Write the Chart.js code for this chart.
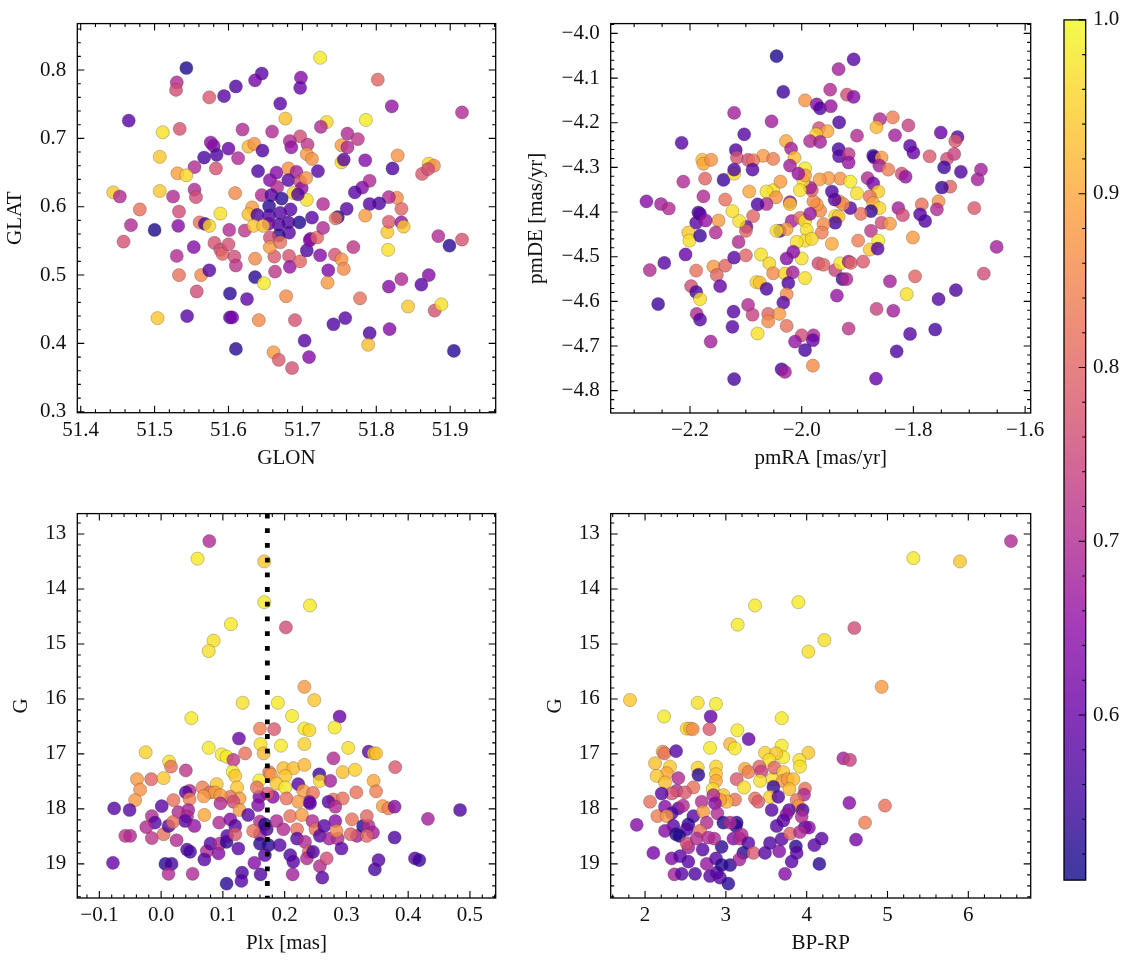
<!DOCTYPE html>
<html>
<head>
<meta charset="utf-8">
<script src="https://cdn.jsdelivr.net/npm/chart.js@4.4.1/dist/chart.umd.min.js"></script>
<style>
  html, body { margin: 0; padding: 0; background: #fff; }
  body { width: 1133px; height: 965px; position: relative; overflow: hidden; }
  canvas { position: absolute; }
</style>
</head>
<body>
<canvas id="posStats" width="510" height="480" style="left:0;top:0;width:510px;height:480px"></canvas>
<canvas id="pmStats" width="530" height="480" style="left:520px;top:0;width:530px;height:480px"></canvas>
<canvas id="plxStats" width="510" height="475" style="left:0;top:490px;width:510px;height:475px"></canvas>
<canvas id="cmdStats" width="530" height="475" style="left:520px;top:490px;width:530px;height:475px"></canvas>
<canvas id="probBar" width="83" height="900" style="left:1050px;top:0;width:83px;height:900px"></canvas>
<script>
// [GLON, GLAT, membership probability]
const posStars = [
  [51.724,0.818,0.98],[51.543,0.803,0.52],[51.530,0.782,0.70],[51.529,0.771,0.76],[51.645,0.795,0.58],
  [51.636,0.785,0.62],[51.610,0.776,0.57],[51.698,0.789,0.64],[51.697,0.774,0.60],[51.802,0.786,0.80],
  [51.574,0.760,0.78],[51.594,0.762,0.58],[51.670,0.751,0.58],[51.821,0.747,0.66],[51.916,0.738,0.70],
  [51.465,0.726,0.58],[51.677,0.729,0.93],[51.733,0.724,0.96],[51.725,0.717,0.70],[51.786,0.727,0.98],
  [51.511,0.709,0.97],[51.534,0.714,0.77],[51.619,0.713,0.70],[51.659,0.710,0.70],[51.697,0.703,0.76],
  [51.576,0.694,0.65],[51.580,0.689,0.64],[51.600,0.685,0.60],[51.627,0.688,0.92],[51.635,0.692,0.87],
  [51.646,0.682,0.57],[51.683,0.696,0.70],[51.685,0.687,0.66],[51.707,0.691,0.72],[51.706,0.677,0.88],
  [51.713,0.670,0.87],[51.761,0.707,0.70],[51.775,0.699,0.72],[51.753,0.690,0.88],[51.761,0.687,0.70],
  [51.507,0.673,0.94],[51.567,0.672,0.56],[51.584,0.676,0.57],[51.613,0.671,0.70],[51.583,0.656,0.77],
  [51.554,0.658,0.70],[51.531,0.649,0.89],[51.543,0.646,0.96],[51.640,0.652,0.57],[51.721,0.652,0.58],
  [51.753,0.665,0.96],[51.756,0.669,0.58],[51.785,0.668,0.64],[51.829,0.675,0.87],[51.822,0.656,0.57],
  [51.862,0.648,0.78],[51.871,0.663,0.96],[51.878,0.660,0.86],[51.870,0.655,0.76],[51.791,0.638,0.70],
  [51.444,0.621,0.94],[51.453,0.615,0.70],[51.507,0.623,0.94],[51.525,0.615,0.70],[51.554,0.625,0.70],
  [51.556,0.614,0.76],[51.609,0.620,0.86],[51.480,0.596,0.82],[51.533,0.593,0.76],[51.589,0.590,0.97],
  [51.468,0.573,0.70],[51.458,0.549,0.77],[51.500,0.566,0.52],[51.532,0.572,0.64],[51.561,0.577,0.82],
  [51.568,0.575,0.57],[51.574,0.572,0.96],[51.601,0.566,0.70],[51.553,0.541,0.64],[51.581,0.547,0.77],
  [51.589,0.537,0.76],[51.592,0.531,0.80],[51.600,0.545,0.77],[51.530,0.528,0.70],[51.608,0.527,0.76],
  [51.610,0.514,0.72],[51.622,0.565,0.72],[51.533,0.500,0.82],[51.563,0.500,0.86],[51.574,0.507,0.58],
  [51.557,0.476,0.76],[51.636,0.524,0.86],[51.636,0.497,0.53],[51.648,0.488,0.98],[51.602,0.473,0.53],
  [51.625,0.465,0.59],[51.663,0.505,0.72],[51.662,0.527,0.78],[51.682,0.528,0.77],[51.683,0.512,0.66],
  [51.697,0.520,0.80],[51.706,0.536,0.57],[51.711,0.553,0.64],[51.724,0.529,0.64],[51.735,0.507,0.63],
  [51.734,0.489,0.88],[51.744,0.530,0.77],[51.753,0.523,0.87],[51.756,0.509,0.86],[51.769,0.541,0.72],
  [51.678,0.469,0.86],[51.778,0.466,0.82],[51.816,0.537,0.97],[51.815,0.563,0.94],[51.817,0.578,0.78],
  [51.834,0.577,0.66],[51.837,0.571,0.94],[51.834,0.597,0.80],[51.828,0.613,0.86],[51.817,0.614,0.70],
  [51.804,0.605,0.57],[51.791,0.604,0.58],[51.781,0.628,0.64],[51.771,0.621,0.58],[51.760,0.597,0.58],
  [51.748,0.585,0.53],[51.745,0.583,0.82],[51.785,0.587,0.88],[51.884,0.557,0.70],[51.899,0.543,0.53],
  [51.916,0.552,0.77],[51.817,0.483,0.64],[51.834,0.494,0.70],[51.861,0.486,0.58],[51.871,0.500,0.64],
  [51.843,0.454,0.94],[51.879,0.448,0.77],[51.888,0.457,0.97],[51.818,0.421,0.64],[51.791,0.415,0.57],
  [51.789,0.398,0.93],[51.905,0.389,0.53],[51.758,0.437,0.58],[51.742,0.428,0.57],[51.690,0.434,0.77],
  [51.703,0.404,0.58],[51.709,0.380,0.64],[51.686,0.364,0.77],[51.661,0.387,0.88],[51.668,0.376,0.78],
  [51.641,0.434,0.86],[51.602,0.438,0.58],[51.605,0.438,0.62],[51.610,0.392,0.53],[51.544,0.440,0.58],
  [51.504,0.437,0.94],[51.665,0.650,0.64],[51.681,0.656,0.87],[51.692,0.651,0.68],[51.656,0.639,0.64],
  [51.666,0.629,0.70],[51.681,0.639,0.58],[51.697,0.637,0.76],[51.699,0.627,0.66],[51.705,0.642,0.87],
  [51.688,0.620,0.96],[51.706,0.610,0.97],[51.645,0.617,0.70],[51.658,0.617,0.58],[51.672,0.612,0.53],
  [51.694,0.618,0.58],[51.655,0.601,0.53],[51.632,0.599,0.88],[51.627,0.589,0.93],[51.639,0.588,0.57],
  [51.655,0.587,0.57],[51.670,0.591,0.58],[51.684,0.596,0.58],[51.713,0.584,0.58],[51.696,0.577,0.52],
  [51.681,0.577,0.57],[51.668,0.574,0.57],[51.654,0.575,0.62],[51.634,0.572,0.94],[51.647,0.572,0.93],
  [51.682,0.562,0.58],[51.668,0.558,0.53],[51.656,0.555,0.76],[51.656,0.541,0.88],[51.670,0.548,0.82],
  [51.710,0.551,0.64],[51.720,0.555,0.80],[51.728,0.569,0.70],[51.728,0.604,0.70]
];

// [pmRA, pmDE, membership probability]
const pmStars = [
  [-2.045,-4.051,0.52],[-1.907,-4.058,0.58],[-1.934,-4.080,0.68],[-2.033,-4.131,0.55],[-1.949,-4.126,0.70],
  [-1.919,-4.137,0.76],[-1.907,-4.142,0.64],[-1.994,-4.150,0.87],[-1.973,-4.159,0.64],[-1.967,-4.168,0.57],
  [-1.948,-4.163,0.66],[-2.121,-4.178,0.68],[-2.054,-4.197,0.68],[-1.933,-4.199,0.57],[-1.969,-4.212,0.76],
  [-1.954,-4.219,0.90],[-1.974,-4.226,0.95],[-1.901,-4.229,0.70],[-2.103,-4.226,0.58],[-2.215,-4.245,0.58],
  [-1.837,-4.188,0.84],[-1.860,-4.192,0.70],[-1.866,-4.210,0.92],[-1.809,-4.206,0.74],[-1.833,-4.228,0.68],
  [-1.751,-4.222,0.60],[-1.721,-4.232,0.58],[-1.725,-4.241,0.78],[-1.985,-4.241,0.70],[-1.967,-4.243,0.68],
  [-2.028,-4.241,0.90],[-2.019,-4.258,0.68],[-2.013,-4.278,0.93],[-1.934,-4.259,0.56],[-1.933,-4.275,0.58],
  [-1.916,-4.270,0.72],[-1.916,-4.289,0.66],[-2.118,-4.261,0.57],[-2.116,-4.278,0.77],[-2.069,-4.274,0.88],
  [-2.051,-4.281,0.84],[-2.096,-4.283,0.76],[-2.087,-4.284,0.82],[-2.178,-4.283,0.93],[-2.176,-4.292,0.90],
  [-2.162,-4.283,0.87],[-1.870,-4.278,0.64],[-1.872,-4.274,0.54],[-1.857,-4.278,0.88],[-1.806,-4.252,0.58],
  [-1.800,-4.267,0.60],[-1.771,-4.275,0.78],[-1.740,-4.281,0.76],[-1.727,-4.270,0.74],[-1.745,-4.300,0.55],
  [-1.715,-4.310,0.57],[-1.679,-4.305,0.68],[-1.685,-4.327,0.68],[-1.734,-4.343,0.80],[-1.749,-4.345,0.55],
  [-1.691,-4.391,0.78],[-1.651,-4.478,0.68],[-1.674,-4.538,0.76],[-1.861,-4.296,0.68],[-1.845,-4.305,0.84],
  [-1.821,-4.314,0.76],[-1.814,-4.321,0.66],[-1.882,-4.324,0.70],[-1.872,-4.336,0.62],[-1.863,-4.354,0.95],
  [-1.878,-4.365,0.82],[-1.872,-4.380,0.90],[-1.861,-4.391,0.96],[-1.876,-4.398,0.54],[-1.857,-4.424,0.76],
  [-1.842,-4.426,0.88],[-1.827,-4.391,0.68],[-1.819,-4.407,0.76],[-1.785,-4.383,0.82],[-1.788,-4.405,0.58],
  [-1.779,-4.420,0.57],[-1.755,-4.376,0.87],[-1.758,-4.394,0.70],[-1.801,-4.457,0.88],[-1.876,-4.442,0.72],
  [-1.863,-4.464,0.98],[-1.878,-4.484,0.94],[-1.864,-4.482,0.58],[-1.899,-4.464,0.84],[-1.894,-4.404,0.82],
  [-1.913,-4.391,0.58],[-1.933,-4.376,0.88],[-1.926,-4.382,0.86],[-1.931,-4.325,0.87],[-1.913,-4.332,0.98],
  [-1.901,-4.358,0.97],[-1.952,-4.324,0.88],[-1.968,-4.327,0.88],[-1.946,-4.354,0.57],[-1.941,-4.372,0.58],
  [-1.940,-4.409,0.97],[-1.934,-4.410,0.93],[-1.940,-4.424,0.56],[-1.961,-4.427,0.86],[-1.964,-4.446,0.84],
  [-1.946,-4.471,0.90],[-1.967,-4.397,0.86],[-1.973,-4.383,0.88],[-1.979,-4.376,0.86],[-1.982,-4.351,0.80],
  [-1.985,-4.345,0.68],[-1.997,-4.329,0.97],[-1.994,-4.302,0.98],[-1.994,-4.318,0.88],[-2.003,-4.351,0.97],
  [-2.006,-4.314,0.66],[-2.021,-4.296,0.68],[-2.021,-4.378,0.66],[-2.018,-4.420,0.68],[-2.003,-4.413,0.82],
  [-1.994,-4.420,0.97],[-1.991,-4.440,0.97],[-1.985,-4.404,0.66],[-1.994,-4.464,0.97],[-1.982,-4.460,0.96],
  [-2.009,-4.467,0.97],[-2.000,-4.504,0.97],[-2.015,-4.489,0.64],[-2.027,-4.504,0.64],[-2.039,-4.442,0.55],
  [-2.027,-4.438,0.88],[-2.045,-4.442,0.97],[-2.051,-4.351,0.97],[-2.063,-4.354,0.97],[-2.046,-4.367,0.87],
  [-2.038,-4.332,0.88],[-2.021,-4.382,0.94],[-2.063,-4.382,0.70],[-2.079,-4.383,0.57],[-2.094,-4.354,0.90],
  [-2.087,-4.409,0.80],[-2.099,-4.433,0.60],[-2.100,-4.442,0.80],[-2.112,-4.420,0.97],[-2.124,-4.398,0.97],
  [-2.113,-4.467,0.70],[-2.137,-4.372,0.82],[-2.149,-4.419,0.88],[-2.154,-4.446,0.70],[-2.173,-4.325,0.80],
  [-2.176,-4.365,0.70],[-2.140,-4.328,0.55],[-2.121,-4.314,0.97],[-2.121,-4.305,0.57],[-2.088,-4.305,0.58],
  [-2.212,-4.332,0.70],[-2.278,-4.376,0.64],[-2.252,-4.382,0.68],[-2.238,-4.392,0.70],[-2.185,-4.401,0.56],
  [-2.182,-4.404,0.58],[-2.189,-4.424,0.58],[-2.172,-4.419,0.66],[-2.203,-4.446,0.94],[-2.201,-4.464,0.97],
  [-2.182,-4.453,0.55],[-2.208,-4.495,0.60],[-2.272,-4.530,0.70],[-2.246,-4.514,0.58],[-2.257,-4.606,0.55],
  [-2.198,-4.566,0.76],[-2.189,-4.579,0.56],[-2.182,-4.595,0.97],[-2.189,-4.531,0.82],[-2.158,-4.522,0.88],
  [-2.152,-4.541,0.80],[-2.146,-4.566,0.60],[-2.137,-4.520,0.80],[-2.121,-4.502,0.58],[-2.100,-4.497,0.80],
  [-2.073,-4.495,0.97],[-2.058,-4.515,0.96],[-2.051,-4.537,0.86],[-2.030,-4.538,0.95],[-2.016,-4.535,0.68],
  [-2.081,-4.557,0.96],[-2.075,-4.558,0.93],[-2.063,-4.572,0.57],[-2.024,-4.559,0.57],[-2.027,-4.584,0.86],
  [-2.033,-4.603,0.58],[-1.994,-4.548,0.97],[-1.970,-4.515,0.76],[-1.961,-4.518,0.80],[-1.940,-4.530,0.74],
  [-1.931,-4.515,0.98],[-1.916,-4.511,0.68],[-1.912,-4.514,0.80],[-1.927,-4.550,0.56],[-1.920,-4.550,0.70],
  [-1.890,-4.511,0.78],[-1.937,-4.587,0.66],[-1.842,-4.555,0.68],[-1.812,-4.584,0.97],[-1.797,-4.544,0.80],
  [-1.755,-4.595,0.58],[-1.724,-4.575,0.57],[-1.836,-4.621,0.68],[-1.866,-4.617,0.74],[-1.761,-4.663,0.56],
  [-1.806,-4.673,0.58],[-1.830,-4.712,0.57],[-1.867,-4.773,0.60],[-1.916,-4.661,0.72],[-1.979,-4.676,0.70],
  [-2.000,-4.676,0.76],[-1.980,-4.687,0.60],[-2.012,-4.690,0.66],[-1.994,-4.709,0.56],[-1.980,-4.744,0.86],
  [-2.036,-4.752,0.56],[-2.030,-4.758,0.68],[-2.121,-4.774,0.56],[-2.163,-4.690,0.68],[-2.122,-4.623,0.58],
  [-2.124,-4.657,0.58],[-2.096,-4.608,0.70],[-2.088,-4.630,0.74],[-2.060,-4.628,0.80],[-2.060,-4.645,0.86],
  [-2.040,-4.628,0.88],[-2.027,-4.655,0.82],[-2.079,-4.672,0.97],[-2.188,-4.628,0.70],[-2.182,-4.641,0.58]
];

// [Plx, G, membership probability]
const plxStars = [
  [0.078,13.13,0.70],[0.059,13.45,0.98],[0.167,13.50,0.94],[0.167,14.24,0.98],[0.241,14.30,0.98],
  [0.202,14.70,0.76],[0.113,14.64,0.98],[0.085,14.94,0.97],[0.077,15.13,0.97],[0.232,15.78,0.88],
  [0.248,16.02,0.94],[0.132,16.07,0.97],[0.189,16.07,0.98],[0.049,16.35,0.98],[0.212,16.31,0.98],
  [0.289,16.32,0.60],[0.160,16.54,0.84],[0.183,16.55,0.78],[0.232,16.54,0.98],[0.240,16.57,0.96],
  [0.281,16.52,0.98],[0.126,16.72,0.60],[0.077,16.89,0.98],[0.161,16.82,0.97],[0.194,16.85,0.98],
  [0.232,16.82,0.95],[0.303,16.89,0.97],[-0.025,16.97,0.95],[0.098,17.01,0.98],[0.106,17.05,0.98],
  [0.117,17.11,0.72],[0.136,16.99,0.82],[0.166,16.99,0.92],[0.336,16.96,0.58],[0.344,16.99,0.94],
  [0.348,16.99,0.93],[0.279,17.08,0.70],[0.013,17.14,0.97],[0.016,17.23,0.82],[0.040,17.30,0.72],
  [-0.039,17.46,0.88],[-0.034,17.65,0.87],[-0.042,17.84,0.88],[-0.016,17.46,0.80],[0.004,17.44,0.94],
  [0.116,17.32,0.98],[0.120,17.40,0.94],[0.123,17.61,0.94],[0.090,17.55,0.94],[0.067,17.61,0.84],
  [0.079,17.70,0.82],[0.087,17.70,0.88],[0.159,17.48,0.98],[0.175,17.33,0.82],[0.178,17.38,0.88],
  [0.198,17.26,0.93],[0.214,17.26,0.93],[0.232,17.20,0.92],[0.201,17.40,0.94],[0.187,17.54,0.94],
  [0.201,17.61,0.98],[0.256,17.37,0.55],[0.257,17.49,0.96],[0.274,17.49,0.68],[0.294,17.33,0.93],
  [0.314,17.29,0.95],[0.379,17.24,0.78],[0.344,17.49,0.90],[0.348,17.68,0.84],[0.316,17.70,0.82],
  [0.359,17.95,0.88],[0.368,17.99,0.84],[0.378,17.96,0.64],[0.222,17.55,0.58],[0.230,17.67,0.88],
  [0.246,17.71,0.82],[0.240,17.87,0.64],[0.203,17.81,0.82],[0.222,17.87,0.88],[0.279,17.83,0.82],
  [0.294,17.81,0.82],[0.271,17.87,0.58],[0.282,17.96,0.70],[0.181,17.78,0.64],[0.172,17.72,0.78],
  [0.159,17.78,0.62],[0.157,17.93,0.64],[0.155,17.61,0.82],[0.127,17.81,0.88],[0.112,17.78,0.82],
  [0.117,17.87,0.76],[0.096,17.75,0.88],[0.069,17.77,0.88],[0.046,17.67,0.70],[0.040,17.70,0.58],
  [0.046,17.82,0.84],[0.020,17.84,0.82],[0.096,17.90,0.70],[0.070,18.11,0.90],[0.127,18.02,0.88],
  [0.141,18.11,0.58],[0.001,17.95,0.58],[-0.015,18.13,0.70],[-0.010,18.25,0.58],[-0.024,18.33,0.70],
  [-0.015,18.53,0.72],[0.004,18.46,0.82],[0.012,18.31,0.57],[0.025,18.57,0.70],[0.028,18.06,0.70],
  [0.044,18.02,0.68],[0.042,18.14,0.70],[0.039,18.22,0.58],[0.054,18.31,0.66],[0.019,18.24,0.82],
  [-0.076,17.99,0.58],[-0.051,18.02,0.58],[-0.058,18.49,0.72],[-0.050,18.49,0.70],[-0.078,18.98,0.60],
  [0.007,19.00,0.53],[0.017,19.00,0.56],[0.012,19.18,0.70],[0.051,19.18,0.70],[0.042,18.74,0.57],
  [0.047,18.78,0.56],[0.074,18.77,0.70],[0.070,18.92,0.58],[0.080,18.63,0.58],[0.093,18.81,0.64],
  [0.095,18.63,0.70],[0.106,18.60,0.53],[0.107,18.49,0.58],[0.094,18.25,0.70],[0.112,18.19,0.64],
  [0.120,18.31,0.58],[0.120,18.46,0.78],[0.125,18.72,0.58],[0.131,19.16,0.57],[0.130,19.31,0.58],
  [0.106,19.36,0.53],[0.151,18.98,0.64],[0.160,18.23,0.70],[0.160,18.46,0.70],[0.160,18.63,0.53],
  [0.168,18.28,0.52],[0.171,18.37,0.57],[0.174,18.66,0.53],[0.168,18.84,0.58],[0.161,19.19,0.57],
  [0.187,18.22,0.70],[0.198,18.37,0.70],[0.192,18.66,0.58],[0.209,18.84,0.57],[0.214,18.96,0.58],
  [0.213,19.19,0.68],[0.209,18.13,0.82],[0.228,18.11,0.88],[0.220,18.37,0.82],[0.220,18.54,0.58],
  [0.233,18.60,0.70],[0.239,18.78,0.80],[0.236,18.90,0.70],[0.241,17.90,0.58],[0.245,18.22,0.70],
  [0.250,18.37,0.82],[0.246,18.78,0.57],[0.257,18.49,0.58],[0.257,19.04,0.70],[0.261,19.25,0.58],
  [0.264,18.31,0.58],[0.272,18.54,0.68],[0.282,18.22,0.64],[0.286,18.54,0.70],[0.292,18.72,0.58],
  [0.268,18.90,0.76],[0.284,18.40,0.86],[0.309,18.19,0.82],[0.317,18.49,0.68],[0.327,18.31,0.53],
  [0.336,18.31,0.70],[0.343,18.43,0.68],[0.333,18.13,0.80],[0.333,18.49,0.80],[0.378,18.52,0.57],
  [0.346,19.10,0.56],[0.352,18.93,0.58],[0.411,18.90,0.58],[0.418,18.93,0.55],[0.432,18.18,0.68],
  [0.484,18.02,0.57],[0.149,18.40,0.82],[0.307,18.46,0.80]
];

// [BP-RP, G, membership probability]
const cmdStars = [
  [6.528,13.13,0.70],[5.320,13.44,0.98],[5.897,13.50,0.94],[3.361,14.30,0.98],[3.897,14.24,0.98],
  [3.146,14.65,0.98],[4.590,14.71,0.76],[4.219,14.93,0.97],[4.021,15.14,0.97],[4.928,15.78,0.88],
  [1.814,16.02,0.94],[2.652,16.07,0.97],[2.878,16.09,0.98],[2.235,16.32,0.98],[2.812,16.32,0.60],
  [3.691,16.35,0.98],[2.515,16.54,0.95],[2.560,16.54,0.93],[2.590,16.55,0.86],[2.796,16.55,0.78],
  [3.142,16.57,0.98],[3.282,16.73,0.60],[2.804,16.89,0.98],[3.052,16.82,0.92],[3.110,16.90,0.98],
  [3.691,16.85,0.98],[3.711,17.06,0.98],[3.485,16.98,0.95],[3.621,16.99,0.94],[3.538,17.11,0.97],
  [4.021,16.98,0.94],[3.909,17.11,0.97],[3.917,17.23,0.97],[2.219,16.96,0.88],[2.240,16.99,0.82],
  [2.384,16.95,0.58],[2.124,17.17,0.93],[2.309,17.23,0.94],[2.268,17.35,0.90],[2.144,17.40,0.94],
  [2.247,17.52,0.93],[2.412,17.44,0.70],[2.652,17.25,0.95],[2.660,17.38,0.53],[2.878,17.23,0.95],
  [2.878,17.37,0.94],[2.878,17.49,0.90],[2.837,17.64,0.97],[3.134,17.46,0.78],[3.225,17.61,0.97],
  [3.237,17.27,0.90],[3.280,17.33,0.84],[3.414,17.23,0.80],[3.440,17.32,0.74],[3.423,17.49,0.97],
  [3.579,17.46,0.97],[3.600,17.25,0.80],[3.711,17.33,0.94],[3.703,17.49,0.88],[3.765,17.46,0.88],
  [3.835,17.46,0.93],[3.786,17.64,0.93],[3.588,17.60,0.54],[3.546,17.78,0.95],[3.649,17.78,0.57],
  [3.979,17.63,0.82],[3.967,17.74,0.70],[3.876,17.84,0.82],[3.900,17.95,0.88],[3.950,18.02,0.57],
  [3.782,18.02,0.58],[3.750,18.10,0.66],[3.711,18.21,0.58],[3.629,18.31,0.58],[3.567,18.02,0.58],
  [3.361,17.81,0.82],[3.400,17.87,0.78],[3.113,17.83,0.82],[2.969,17.75,0.93],[3.010,17.87,0.92],
  [2.930,17.84,0.88],[2.845,17.75,0.70],[2.866,17.90,0.64],[2.895,18.08,0.70],[2.598,17.61,0.82],
  [2.392,17.67,0.70],[2.495,17.70,0.78],[2.330,17.72,0.78],[2.206,17.72,0.58],[2.062,17.87,0.82],
  [2.153,18.13,0.84],[2.247,17.96,0.64],[2.330,18.08,0.58],[2.412,17.99,0.57],[2.268,18.13,0.88],
  [2.470,17.94,0.70],[2.598,18.13,0.58],[2.701,17.87,0.70],[2.720,18.05,0.88],[2.536,18.28,0.53],
  [2.515,18.37,0.58],[2.351,18.31,0.58],[2.247,18.40,0.64],[2.384,18.46,0.53],[2.425,18.49,0.52],
  [1.897,18.29,0.64],[2.103,18.80,0.62],[2.330,18.90,0.64],[2.433,18.86,0.58],[2.536,18.96,0.58],
  [2.363,19.19,0.68],[2.454,19.18,0.58],[2.619,19.18,0.57],[2.536,18.70,0.68],[2.515,18.62,0.76],
  [2.713,18.74,0.58],[2.763,19.00,0.66],[2.804,19.22,0.58],[2.878,18.90,0.58],[2.887,19.16,0.58],
  [2.948,19.02,0.53],[2.928,19.25,0.58],[3.031,19.36,0.53],[3.052,19.02,0.53],[2.948,18.69,0.53],
  [2.969,18.25,0.52],[3.134,18.25,0.53],[3.125,18.31,0.54],[3.093,18.54,0.64],[3.175,18.54,0.70],
  [3.196,18.47,0.70],[3.278,18.62,0.58],[3.216,18.80,0.53],[3.167,18.92,0.68],[3.340,18.80,0.78],
  [3.485,18.80,0.58],[3.546,18.62,0.57],[3.660,18.77,0.64],[3.691,18.55,0.58],[3.866,18.68,0.53],
  [3.876,18.80,0.58],[3.814,18.96,0.58],[3.732,19.18,0.64],[4.095,18.66,0.58],[4.186,18.54,0.58],
  [4.157,19.00,0.53],[3.979,18.33,0.58],[4.028,18.34,0.64],[3.938,18.14,0.70],[3.794,18.45,0.80],
  [3.917,18.42,0.70],[3.052,18.25,0.70],[2.857,18.54,0.70],[2.763,18.25,0.70],[2.680,18.40,0.82],
  [2.639,18.54,0.70],[2.783,18.52,0.70],[4.454,17.08,0.68],[4.536,17.11,0.74],[4.528,17.89,0.64],
  [4.969,17.94,0.82],[4.722,18.25,0.84],[4.610,18.56,0.62]
];

const plxCut = 0.172;
const probMin = 0.505;
const probMax = 1.0;

const plasmaStops = ['#0d0887', '#41049d', '#6a00a8', '#8f0da4', '#b12a90', '#cc4778',
                     '#e16462', '#f2844b', '#fca636', '#fcce25', '#f0f921'];

function hexRgb(h) {
  return [parseInt(h.slice(1, 3), 16), parseInt(h.slice(3, 5), 16), parseInt(h.slice(5, 7), 16)];
}

function plasma(t, alpha) {
  t = Math.max(0, Math.min(1, t));
  const i = Math.min(9, Math.floor(t * 10));
  const f = t * 10 - i;
  const a = hexRgb(plasmaStops[i]), b = hexRgb(plasmaStops[i + 1]);
  const c = a.map((v, k) => Math.round(v + (b[k] - v) * f));
  return 'rgba(' + c[0] + ',' + c[1] + ',' + c[2] + ',' + alpha + ')';
}

function probColor(p) {
  return plasma((p - probMin) / (probMax - probMin), 0.8);
}

function fmt(dec) {
  return function (v) {
    if (Math.abs(v) < 1e-9) v = 0;
    return v.toFixed(dec).replace('-', '\u2212');
  };
}

Chart.defaults.font.family = "'Liberation Serif', 'DejaVu Serif', serif";
Chart.defaults.font.size = 21;
Chart.defaults.color = '#111';

// box + inward major/minor ticks on every side
const frame = {
  id: 'frame',
  afterDraw(chart, args, opts) {
    const {ctx, chartArea: a} = chart;
    ctx.save();
    ctx.strokeStyle = '#000';
    ctx.lineWidth = 1.1;
    ctx.beginPath();
    ['x', 'y'].forEach(function (k) {
      const s = chart.scales[k];
      const minor = opts[k + 'Minor'];
      if (!s || !s.options.display || !minor) return;
      const majors = s.ticks.map(t => t.value);
      const vals = [];
      for (let n = Math.ceil(s.min / minor - 1e-6); n * minor <= s.max + 1e-9; n++) {
        const v = n * minor;
        const isMajor = majors.some(m => Math.abs(m - v) < minor / 10);
        vals.push([v, isMajor ? 7 : 3.5]);
      }
      vals.forEach(function (item) {
        const p = s.getPixelForValue(item[0]);
        const len = item[1];
        if (k === 'x') {
          ctx.moveTo(p, a.bottom); ctx.lineTo(p, a.bottom - len);
          ctx.moveTo(p, a.top); ctx.lineTo(p, a.top + len);
        } else {
          if (!opts.rightOnly) { ctx.moveTo(a.left, p); ctx.lineTo(a.left + len, p); }
          ctx.moveTo(a.right, p); ctx.lineTo(a.right - len, p);
        }
      });
    });
    ctx.stroke();
    ctx.lineWidth = 1.3;
    ctx.strokeRect(a.left, a.top, a.right - a.left, a.bottom - a.top);
    ctx.restore();
  }
};

const plxLine = {
  id: 'plxLine',
  afterDatasetsDraw(chart) {
    const {ctx, chartArea: a, scales} = chart;
    const px = scales.x.getPixelForValue(plxCut);
    ctx.save();
    ctx.strokeStyle = '#000';
    ctx.lineWidth = 4.8;
    ctx.setLineDash([4.8, 9.9]);
    ctx.beginPath();
    ctx.moveTo(px, a.top);
    ctx.lineTo(px, a.bottom);
    ctx.stroke();
    ctx.restore();
  }
};

const barFill = {
  id: 'barFill',
  beforeDatasetsDraw(chart) {
    const {ctx, chartArea: a} = chart;
    const g = ctx.createLinearGradient(0, a.bottom, 0, a.top);
    plasmaStops.forEach((c, i) => g.addColorStop(i / 10, plasma(i / 10, 0.8)));
    ctx.save();
    ctx.fillStyle = g;
    ctx.fillRect(a.left, a.top, a.right - a.left, a.bottom - a.top);
    ctx.restore();
  }
};

function axis(a, dir) {
  return {
    type: 'linear',
    position: dir === 'x' ? 'bottom' : 'left',
    min: a.min,
    max: a.max,
    reverse: !!a.reverse,
    grid: { display: false, drawTicks: false },
    border: { display: false },
    ticks: {
      stepSize: a.step,
      includeBounds: false,
      autoSkip: false,
      maxRotation: 0,
      padding: dir === 'x' ? 4.9 : 11,
      callback: fmt(a.dec)
    },
    title: {
      display: true,
      text: a.title,
      padding: dir === 'x' ? { top: 0, bottom: 9.4 } : { top: a.titlePad, bottom: 0 }
    },
    afterFit: function (s) {
      if (dir === 'x') s.height = a.size; else s.width = a.size;
    }
  };
}

function starChart(id, stars, cfg) {
  const ctx = document.getElementById(id);
  return new Chart(ctx, {
    type: 'scatter',
    data: {
      datasets: [{
        data: stars.map(s => ({ x: s[0], y: s[1] })),
        backgroundColor: stars.map(s => probColor(s[2])),
        borderColor: 'rgba(50,50,50,0.45)',
        borderWidth: 0.6,
        pointRadius: 6.6,
        pointHoverRadius: 6.6
      }]
    },
    plugins: [frame].concat(cfg.extra || []),
    options: {
      responsive: false,
      animation: false,
      devicePixelRatio: 1,
      layout: { autoPadding: false, padding: cfg.pad },
      plugins: {
        legend: { display: false },
        tooltip: { enabled: false },
        frame: { xMinor: cfg.x.minor, yMinor: cfg.y.minor }
      },
      scales: { x: axis(cfg.x, 'x'), y: axis(cfg.y, 'y') }
    }
  });
}

starChart('posStats', posStars, {
  pad: { left: 0, right: 14.3, top: 15, bottom: 0 },
  x: { min: 51.3954, max: 51.9616, step: 0.1, minor: 0.02, dec: 1, title: 'GLON', size: 67.3 },
  y: { min: 0.2986, max: 0.868, step: 0.1, minor: 0.02, dec: 1, title: 'GLAT', size: 77.3, titlePad: 2.4 }
});

starChart('pmStats', pmStars, {
  pad: { left: 0, right: 19.3, top: 15, bottom: 0 },
  x: { min: -2.342, max: -1.59, step: 0.2, minor: 0.05, dec: 1, title: 'pmRA [mas/yr]', size: 67 },
  y: { min: -4.850, max: -3.978, step: 0.1, minor: 0.02, dec: 1, title: 'pmDE [mas/yr]', size: 90.7, titlePad: 4.1 }
});

starChart('plxStats', plxStars, {
  pad: { left: 0, right: 14.3, top: 10, bottom: 0 },
  x: { min: -0.1357, max: 0.5417, step: 0.1, minor: 0.02, dec: 1, title: 'Plx [mas]', size: 67 },
  y: { min: 12.63, max: 19.62, step: 1, minor: 0.2, dec: 0, reverse: true, title: 'G', size: 77.3, titlePad: 9.1 },
  extra: [plxLine]
});

starChart('cmdStats', cmdStars, {
  pad: { left: 0, right: 19.3, top: 10, bottom: 0 },
  x: { min: 1.575, max: 6.772, step: 1, minor: 0.2, dec: 0, title: 'BP-RP', size: 67 },
  y: { min: 12.63, max: 19.62, step: 1, minor: 0.2, dec: 0, reverse: true, title: 'G', size: 90.7, titlePad: 22.4 }
});

new Chart(document.getElementById('probBar'), {
  type: 'scatter',
  data: { datasets: [{ data: [] }] },
  plugins: [barFill, frame],
  options: {
    responsive: false,
    animation: false,
    devicePixelRatio: 1,
    layout: { autoPadding: false, padding: { left: 14, right: 0, top: 15, bottom: 18 } },
    plugins: {
      legend: { display: false },
      tooltip: { enabled: false },
      frame: { yMinor: 0.02, rightOnly: true }
    },
    scales: {
      x: { display: false, min: 0, max: 1 },
      y: {
        position: 'right',
        min: probMin,
        max: probMax,
        grid: { display: false, drawTicks: false },
        border: { display: false },
        ticks: { stepSize: 0.1, includeBounds: false, padding: 7.3, callback: fmt(1) },
        afterFit: function (s) { s.width = 47.3; }
      }
    }
  }
});
</script>
</body>
</html>
